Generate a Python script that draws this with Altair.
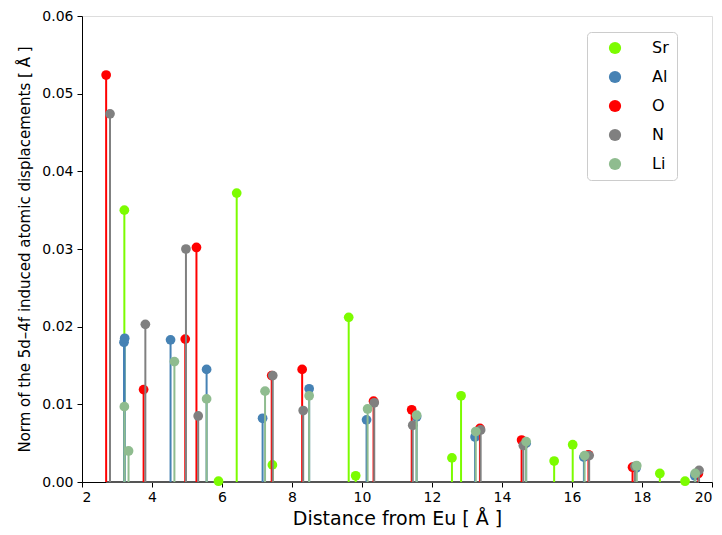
import altair as alt
import pandas as pd

elements = ["Sr", "Al", "O", "N", "Li"]
colors = ["#7CFC00", "#4682B4", "#FF0000", "#808080", "#8FBC8F"]

sr_x = [3.21, 5.90, 6.42, 7.44, 9.62, 9.82, 12.57, 12.83, 15.49, 16.02, 18.51, 19.23]
sr_y = [0.0350, 0.0001, 0.0372, 0.0022, 0.0212, 0.0008, 0.0031, 0.0111, 0.0027, 0.0048, 0.0011, 0.0001]

al_x = [3.20, 3.22, 4.53, 5.56, 7.16, 8.49, 10.13, 11.56, 13.23, 14.69, 16.34, 17.83, 19.51]
al_y = [0.0180, 0.0185, 0.0183, 0.0145, 0.0082, 0.0120, 0.0080, 0.0084, 0.0058, 0.0050, 0.0032, 0.0018, 0.0008]

o_x = [2.69, 3.76, 4.95, 5.27, 7.42, 8.29, 10.33, 11.42, 13.37, 14.56, 16.47, 17.73, 19.61]
o_y = [0.0524, 0.0119, 0.0184, 0.0302, 0.0137, 0.0145, 0.0104, 0.0093, 0.0069, 0.0054, 0.0035, 0.0019, 0.0011]

n_x = [2.80, 3.81, 4.97, 5.32, 7.45, 8.32, 10.35, 11.45, 13.39, 14.61, 16.49, 17.80, 19.63]
n_y = [0.0474, 0.0203, 0.0300, 0.0085, 0.0137, 0.0092, 0.0102, 0.0073, 0.0067, 0.0047, 0.0034, 0.0020, 0.0015]

li_x = [3.21, 3.33, 4.64, 5.56, 7.23, 8.49, 10.16, 11.56, 13.25, 14.69, 16.36, 17.85, 19.52]
li_y = [0.0097, 0.0040, 0.0155, 0.0107, 0.0117, 0.0111, 0.0094, 0.0086, 0.0065, 0.0052, 0.0034, 0.0021, 0.0011]

series = {
    "Sr": (sr_x, sr_y),
    "Al": (al_x, al_y),
    "O": (o_x, o_y),
    "N": (n_x, n_y),
    "Li": (li_x, li_y),
}

x_ticks = [2, 4, 6, 8, 10, 12, 14, 16, 18, 20]
y_ticks = [0.0, 0.01, 0.02, 0.03, 0.04, 0.05, 0.06]

xscale = alt.Scale(domain=[2, 20], nice=False, zero=False)
yscale = alt.Scale(domain=[0, 0.06], nice=False)

xaxis = alt.Axis(title="Distance from Eu [ Å ]", values=x_ticks, format="d",
                 grid=False, tickSize=5, labelPadding=3, labelFontSize=14,
                 titleFontSize=19, titleFontWeight="normal", titlePadding=5,
                 domainColor="black", tickColor="black", labelColor="black",
                 titleColor="black", labelFont="DejaVu Sans", titleFont="DejaVu Sans")
yaxis = alt.Axis(title="Norm of the 5d–4f induced atomic displacements [ Å ]",
                 values=y_ticks, format=".2f", grid=False, tickSize=5,
                 labelPadding=4, labelFontSize=14, titleFontSize=15,
                 titleFontWeight="normal", titlePadding=9,
                 domainColor="black", tickColor="black", labelColor="black",
                 titleColor="black", labelFont="DejaVu Sans", titleFont="DejaVu Sans")

all_x = [v for xs, _ in series.values() for v in xs]
base_df = pd.DataFrame({"x": [min(all_x)], "x2": [max(all_x)]})
baseline = alt.Chart(base_df).mark_rule(color="#555555", strokeWidth=2).encode(
    x=alt.X("x:Q", scale=xscale, axis=xaxis),
    x2="x2:Q",
    y=alt.datum(0, scale=yscale, axis=yaxis),
)

layers = [baseline]
for name, col in zip(elements, colors):
    xs, ys = series[name]
    df = pd.DataFrame({"x": xs, "y": ys, "element": [name] * len(xs)})
    stem = alt.Chart(df).mark_rule(strokeWidth=2, color=col).encode(
        x=alt.X("x:Q", scale=xscale, axis=xaxis),
        y=alt.Y("y:Q", scale=yscale, axis=yaxis),
        y2=alt.datum(0),
    )
    dots = alt.Chart(df).mark_point(filled=True, size=95, opacity=1, shape="circle").encode(
        x=alt.X("x:Q", scale=xscale, axis=xaxis),
        y=alt.Y("y:Q", scale=yscale, axis=yaxis),
        color=alt.Color("element:N",
                        scale=alt.Scale(domain=elements, range=colors),
                        sort=elements,
                        legend=alt.Legend(title=None, orient="none", legendX=505, legendY=16,
                                          labelFontSize=16, labelFont="DejaVu Sans",
                                          labelColor="black", symbolSize=150,
                                          symbolType="circle", rowPadding=13,
                                          padding=8, symbolOffset=12, labelOffset=29,
                                          strokeColor="#cccccc", cornerRadius=4,
                                          fillColor="white")),
    )
    layers += [stem, dots]

chart = alt.layer(*layers).properties(
    width=630, height=466,
    autosize=alt.AutoSizeParams(type="none"),
    padding={"left": 74, "top": 8, "right": 2, "bottom": 52},
).configure_view(stroke="black", strokeWidth=1).configure(background="white")

chart.save("out.html", embed_options={"renderer": "svg", "actions": False})
